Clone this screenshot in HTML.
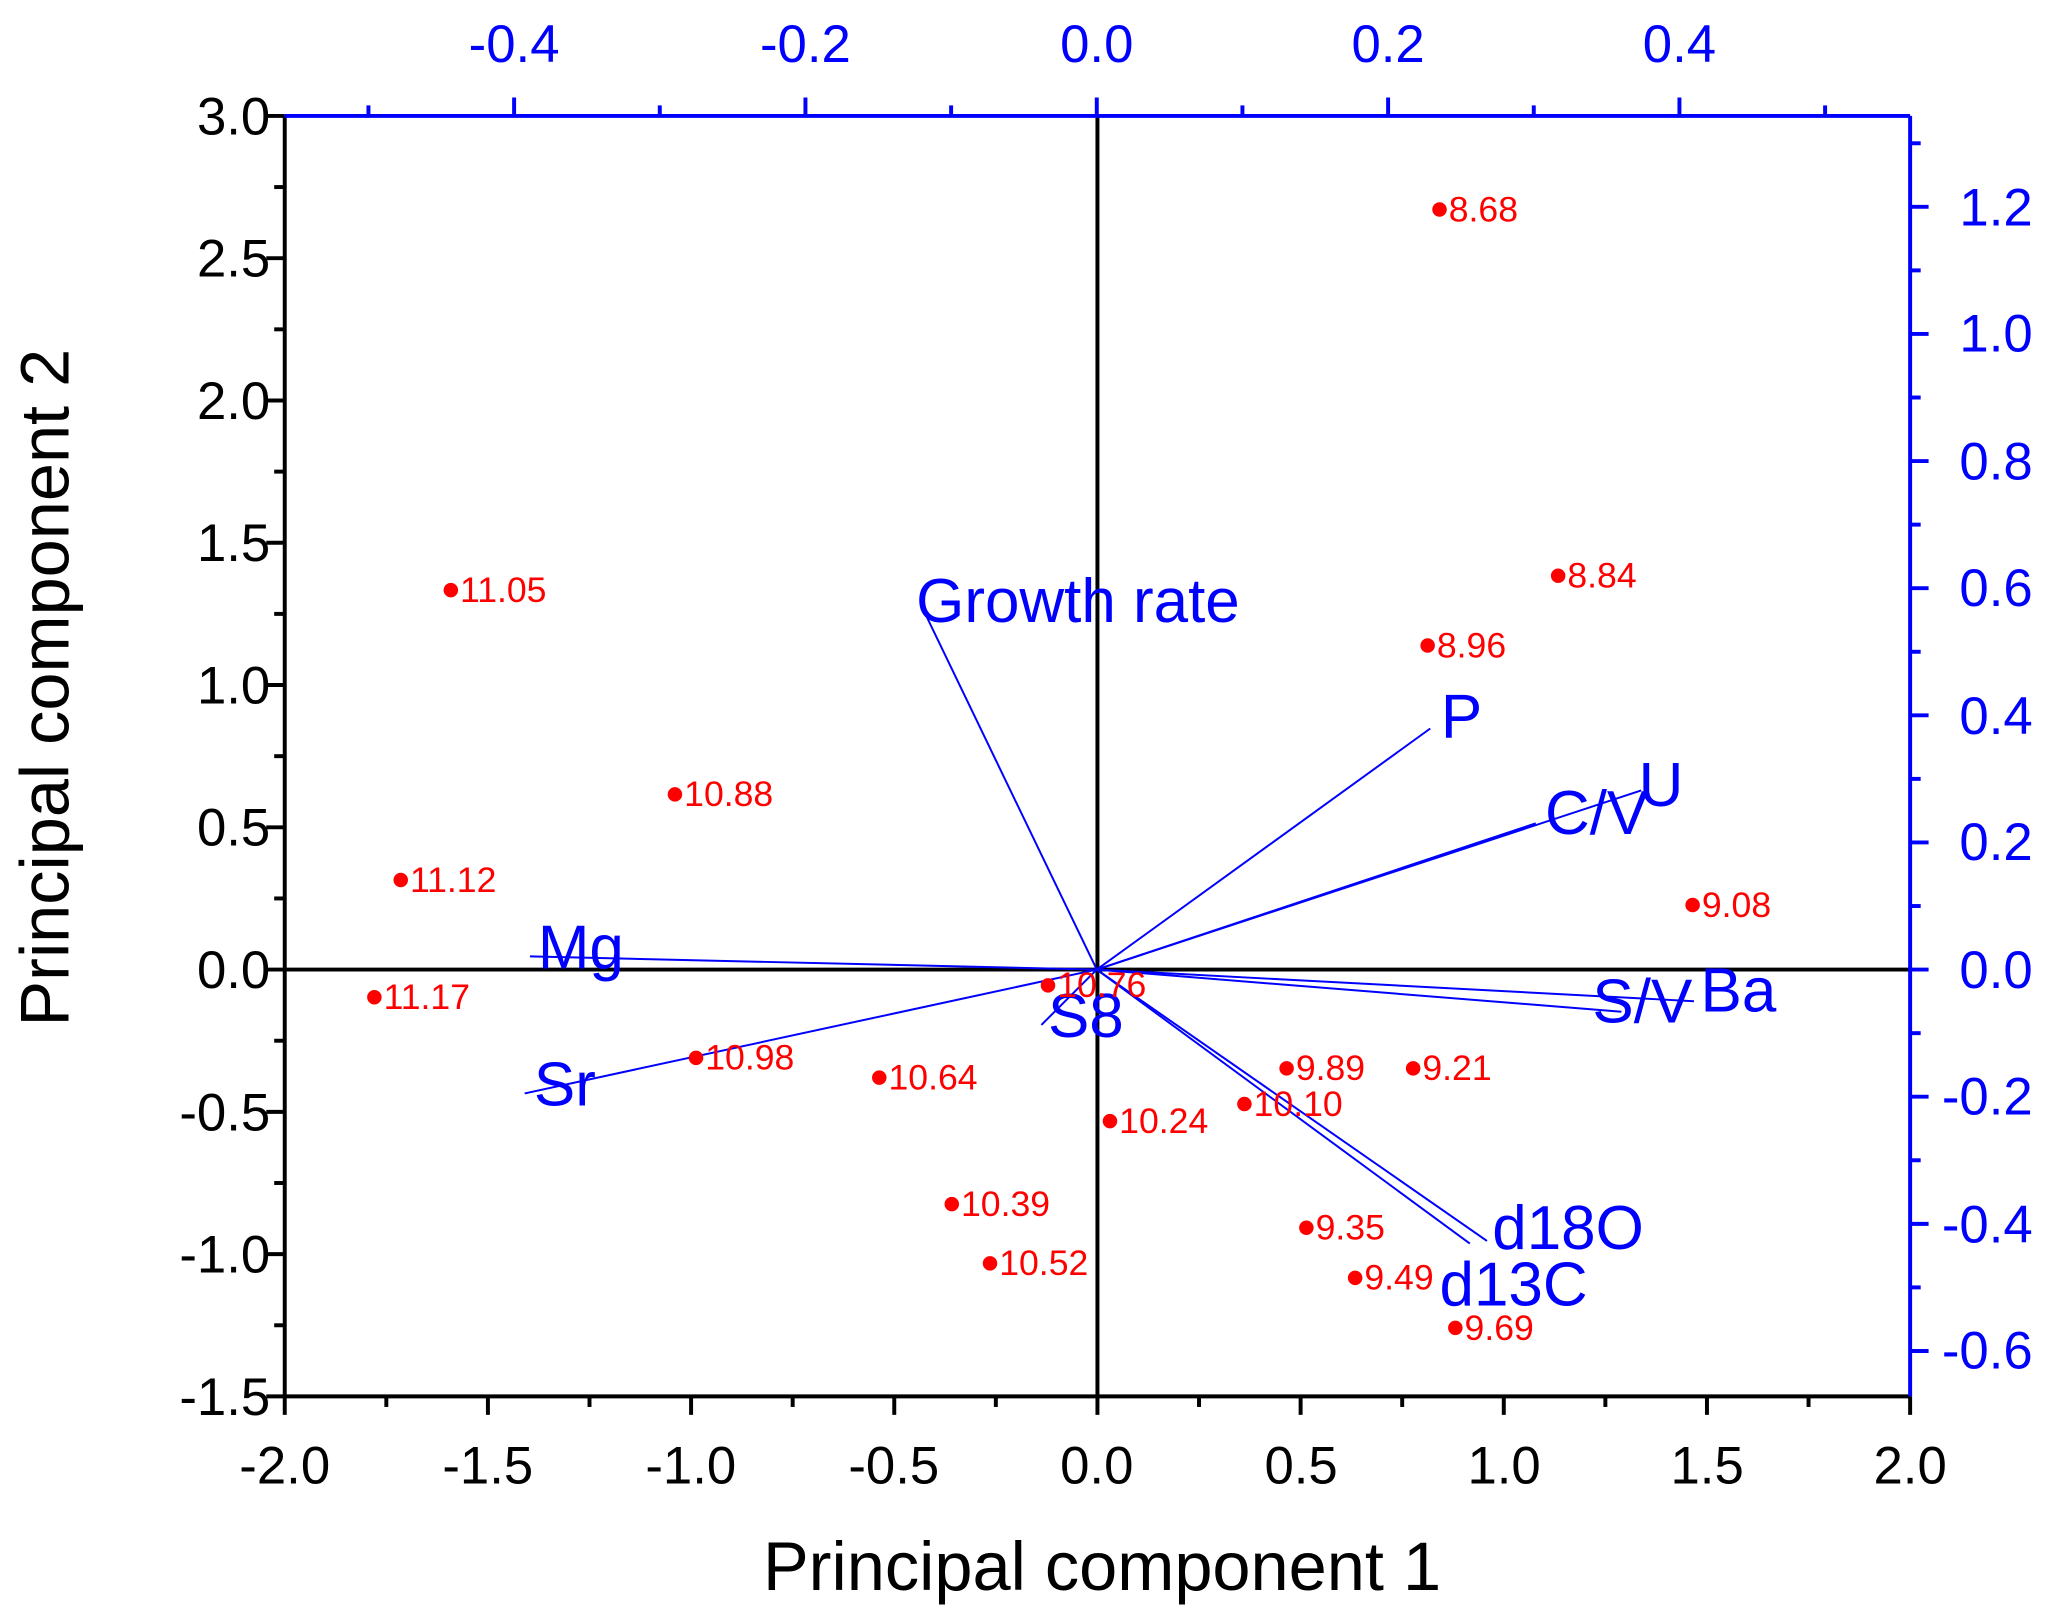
<!DOCTYPE html>
<html><head><meta charset="utf-8"><style>html,body{margin:0;padding:0;background:#fff}svg{display:block}</style></head>
<body>
<svg id="s" width="2067" height="1623" viewBox="0 0 1568 1232" preserveAspectRatio="none" xmlns="http://www.w3.org/2000/svg" font-family="Liberation Sans, sans-serif">
<g id="ticks"></g>
<line x1="216" y1="736" x2="1449" y2="736" stroke="#000" stroke-width="3"/>
<line x1="832.5" y1="88" x2="832.5" y2="1060" stroke="#000" stroke-width="3"/>
<line x1="216" y1="88" x2="216" y2="1060" stroke="#000" stroke-width="3"/>
<line x1="216" y1="1060" x2="1449" y2="1060" stroke="#000" stroke-width="3"/>
<line x1="216" y1="88" x2="1449" y2="88" stroke="#00f" stroke-width="3"/>
<line x1="1449" y1="88" x2="1449" y2="1060" stroke="#00f" stroke-width="3"/>
<g stroke="#00f" stroke-width="1.5">
<line x1="832" y1="736" x2="700" y2="462"/>
<line x1="832" y1="736" x2="1085" y2="553"/>
<line x1="832" y1="736" x2="1165" y2="625"/>
<line x1="832" y1="736" x2="1245" y2="600"/>
<line x1="832" y1="736" x2="1285" y2="760"/>
<line x1="832" y1="736" x2="1230" y2="768"/>
<line x1="832" y1="736" x2="1128" y2="942"/>
<line x1="832" y1="736" x2="1115" y2="944"/>
<line x1="832" y1="736" x2="398" y2="830"/>
<line x1="832" y1="736" x2="402" y2="726"/>
<line x1="832" y1="736" x2="790" y2="778"/>
</g>
<g fill="#00f" font-size="47">
<text x="695" y="472">Growth rate</text>
<text x="1093" y="560">P</text>
<text x="1172" y="633">C/V</text>
<text x="1243" y="612">U</text>
<text x="1208" y="776">S/V</text>
<text x="1290" y="768">Ba</text>
<text x="1132" y="948">d18O</text>
<text x="1092" y="991">d13C</text>
<text x="405" y="839">Sr</text>
<text x="408" y="735">Mg</text>
<text x="795" y="787">S8</text>
</g>
<g fill="#f00" font-size="27">
<circle cx="1092" cy="159" r="5.5"/><text x="1099" y="168">8.68</text>
<circle cx="1182" cy="437" r="5.5"/><text x="1189" y="446">8.84</text>
<circle cx="1083" cy="490" r="5.5"/><text x="1090" y="499">8.96</text>
<circle cx="1284" cy="687" r="5.5"/><text x="1291" y="696">9.08</text>
<circle cx="342" cy="448" r="5.5"/><text x="349" y="457">11.05</text>
<circle cx="512" cy="603" r="5.5"/><text x="519" y="612">10.88</text>
<circle cx="304" cy="668" r="5.5"/><text x="311" y="677">11.12</text>
<circle cx="284" cy="757" r="5.5"/><text x="291" y="766">11.17</text>
<circle cx="795" cy="748" r="5.5"/><text x="802" y="757">10.76</text>
<circle cx="528" cy="803" r="5.5"/><text x="535" y="812">10.98</text>
<circle cx="667" cy="818" r="5.5"/><text x="674" y="827">10.64</text>
<circle cx="976" cy="811" r="5.5"/><text x="983" y="820">9.89</text>
<circle cx="1072" cy="811" r="5.5"/><text x="1079" y="820">9.21</text>
<circle cx="944" cy="838" r="5.5"/><text x="951" y="847">10.10</text>
<circle cx="842" cy="851" r="5.5"/><text x="849" y="860">10.24</text>
<circle cx="722" cy="914" r="5.5"/><text x="729" y="923">10.39</text>
<circle cx="751" cy="959" r="5.5"/><text x="758" y="968">10.52</text>
<circle cx="991" cy="932" r="5.5"/><text x="998" y="941">9.35</text>
<circle cx="1028" cy="970" r="5.5"/><text x="1035" y="979">9.49</text>
<circle cx="1104" cy="1008" r="5.5"/><text x="1111" y="1017">9.69</text>
</g>
<g font-size="40" text-anchor="end" fill="#000">
<text x="205" y="102">3.0</text><text x="205" y="210">2.5</text><text x="205" y="318">2.0</text>
<text x="205" y="426">1.5</text><text x="205" y="534">1.0</text><text x="205" y="642">0.5</text>
<text x="205" y="750">0.0</text><text x="205" y="858">-0.5</text><text x="205" y="966">-1.0</text>
<text x="205" y="1074">-1.5</text>
</g>
<g font-size="40" text-anchor="middle" fill="#000">
<text x="216" y="1126">-2.0</text><text x="370" y="1126">-1.5</text><text x="524" y="1126">-1.0</text>
<text x="678" y="1126">-0.5</text><text x="832" y="1126">0.0</text><text x="987" y="1126">0.5</text>
<text x="1141" y="1126">1.0</text><text x="1295" y="1126">1.5</text><text x="1449" y="1126">2.0</text>
</g>
<g font-size="40" text-anchor="middle" fill="#00f">
<text x="390" y="47">-0.4</text><text x="611" y="47">-0.2</text><text x="832" y="47">0.0</text>
<text x="1053" y="47">0.2</text><text x="1274" y="47">0.4</text>
</g>
<g font-size="40" text-anchor="end" fill="#00f">
<text x="1542" y="171">1.2</text><text x="1542" y="267">1.0</text><text x="1542" y="364">0.8</text>
<text x="1542" y="460">0.6</text><text x="1542" y="557">0.4</text><text x="1542" y="653">0.2</text>
<text x="1542" y="750">0.0</text><text x="1542" y="846">-0.2</text><text x="1542" y="943">-0.4</text>
<text x="1542" y="1039">-0.6</text>
</g>
<text x="836" y="1207" font-size="52" text-anchor="middle" fill="#000">Principal component 1</text>
<text transform="translate(52,522) rotate(-90)" font-size="52" text-anchor="middle" fill="#000">Principal  component 2</text>
</svg>
<script>
var g=document.getElementById('ticks'),ns='http://www.w3.org/2000/svg';
function L(x1,y1,x2,y2,c){var l=document.createElementNS(ns,'line');l.setAttribute('x1',x1);l.setAttribute('y1',y1);l.setAttribute('x2',x2);l.setAttribute('y2',y2);l.setAttribute('stroke',c);l.setAttribute('stroke-width',3);g.appendChild(l);}
for(var i=0;i<=16;i++){var x=216+i*1233/16,len=i%2?8:14;L(x,1060,x,1060+len,'#000');}
for(var i=0;i<=18;i++){var y=88+i*972/18,len=i%2?8:14;L(216,y,216-len,y,'#000');}
for(var k=-5;k<=5;k++){var x=832+k*0.1*1105,len=(k%2===0)?14:8;L(x,88,x,88-len,'#00f');}
for(var k=-6;k<=13;k++){var y=736-k*0.1*482.5,len=(k%2===0)?14:8;L(1449,y,1449+len,y,'#00f');}
</script>
</body></html>
